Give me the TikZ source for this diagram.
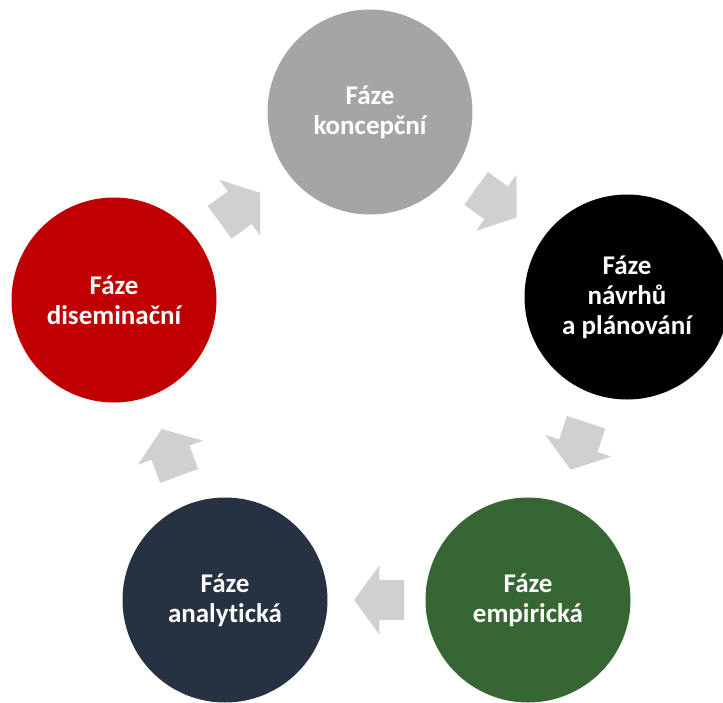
\documentclass[tikz,border=0pt]{standalone}
\usepackage{fontspec}
\setmainfont{Carlito}[Ligatures=NoCommon]
\usepackage{xcolor}
\usetikzlibrary{shapes.arrows}

\definecolor{fazegray}{HTML}{A5A5A5}
\definecolor{fazegreen}{HTML}{366633}
\definecolor{fazenavy}{HTML}{263142}
\definecolor{fazered}{HTML}{C00000}
\definecolor{arrowgray}{HTML}{D0D0D0}

\tikzset{
  faze/.style={circle, minimum size=205pt, inner sep=0pt, text=white,
    font=\fontsize{27}{30}\selectfont\bfseries, align=center},
  cyclearrow/.style={single arrow, fill=arrowgray, draw=none,
    inner xsep=0pt, inner ysep=20pt, minimum height=50pt,
    single arrow head extend=14.5pt, single arrow tip angle=108,
    sloped, allow upside down, xshift=-10pt}
}

\begin{document}
\begin{tikzpicture}[x=1pt,y=-1pt]
    \useasboundingbox (0,0) rectangle (723,702);

    % 五个阶段的圆
    \node[faze, fill=fazegray] (konc) at (370,112) {Fáze\\koncepční};
    \node[faze, fill=black] (navrh) at (627,297) {Fáze\\návrhů\\a plánování};
    \node[faze, fill=fazegreen] (empir) at (528,600) {Fáze\\empirická};
    \node[faze, fill=fazenavy] (analyt) at (225,600) {Fáze\\analytická};
    \node[faze, fill=fazered] (disem) at (114,300) {Fáze\\diseminační};

    % 圆之间的箭头(顺时针)
    \path (konc) -- node[cyclearrow] {} (navrh);
    \path (navrh) -- node[cyclearrow] {} (empir);
    \path (empir) -- node[cyclearrow] {} (analyt);
    \path (analyt) -- node[cyclearrow] {} (disem);
    \path (disem) -- node[cyclearrow] {} (konc);
\end{tikzpicture}
\end{document}
